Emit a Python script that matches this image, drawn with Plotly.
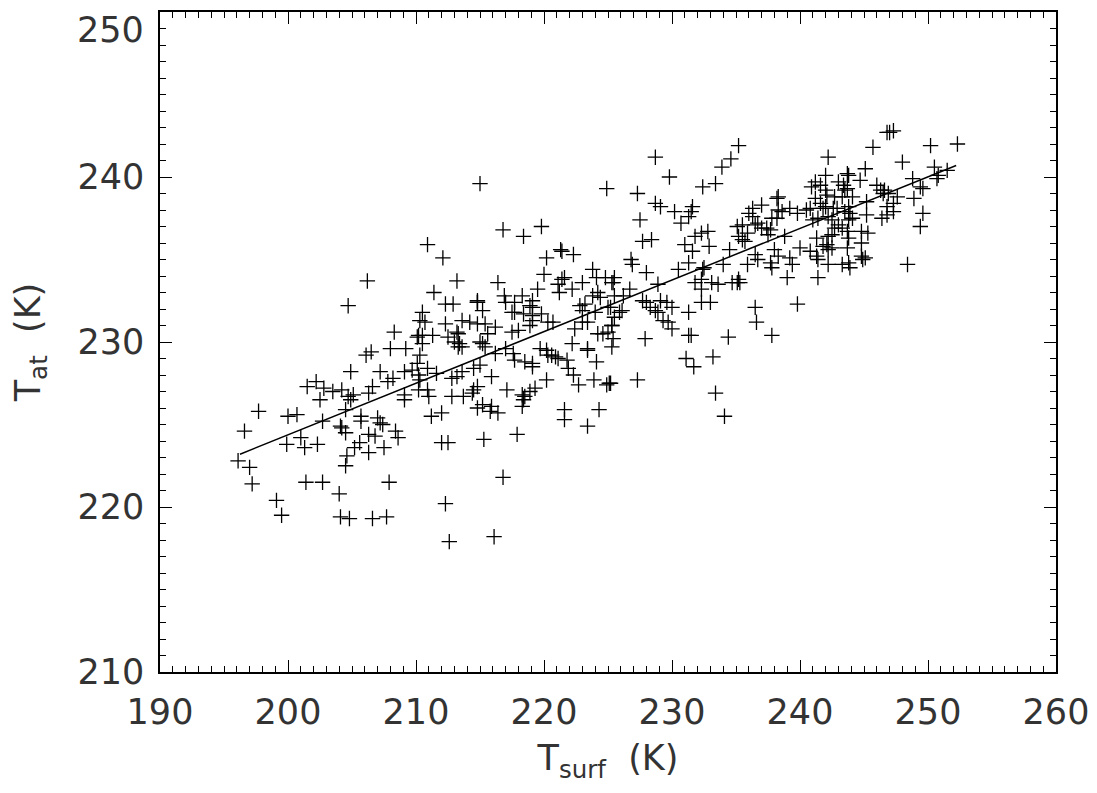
import numpy as np
import plotly.graph_objects as go

# surface temperature (K) vs. atmospheric temperature (K)
t_surf = [
    196.1, 197.0, 197.2, 199.1, 199.5, 196.6, 197.7, 200.0, 200.7, 199.9, 201.0, 201.3, 202.3, 201.4,
    202.7, 204.0, 204.1, 204.8, 206.6, 207.7, 207.9, 204.5, 204.6, 205.2, 205.6, 206.3, 207.5, 206.3,
    206.8, 208.4, 208.6, 204.1, 204.2, 204.5, 202.7, 204.5, 205.7, 205.7, 207.0, 207.2, 207.4, 201.5,
    202.2, 202.8, 202.5, 203.5, 204.2, 204.7, 204.9, 205.1, 206.3, 206.6, 204.9, 207.2, 207.8, 208.2,
    209.1, 209.7, 209.1, 209.1, 206.1, 206.5, 208.0, 209.2, 208.3, 204.7, 210.1, 210.5, 210.3, 206.2,
    210.7, 212.3, 212.9, 214.8, 215.2, 217.5, 217.7, 218.4, 219.1, 219.8, 218.9, 219.1, 218.9, 220.3,
    220.7, 222.8, 223.2, 223.0, 223.0, 223.4, 222.4, 224.0, 225.0, 225.3, 224.2, 224.6, 225.3, 212.3,
    213.6, 214.2, 214.8, 215.4, 216.2, 213.2, 213.3, 215.6, 217.5, 218.0, 210.2, 210.5, 211.3, 212.5,
    210.5, 213.0, 213.4, 213.6, 213.3, 215.0, 215.2, 215.4, 216.2, 217.0, 217.6, 217.7, 218.5, 219.1,
    219.1, 219.7, 220.2, 220.3, 220.6, 220.9, 221.1, 222.2, 223.4, 223.4, 224.1, 221.8, 221.9, 222.3,
    222.7, 223.9, 224.9, 225.2, 210.3, 210.1, 210.9, 211.6, 210.2, 210.3, 212.8, 213.2, 213.6, 214.5,
    215.0, 215.9, 214.8, 214.5, 214.4, 212.8, 213.7, 210.2, 210.9, 211.0, 217.1, 218.3, 218.5, 218.9,
    219.3, 220.2, 218.4, 218.3, 215.2, 214.8, 215.9, 215.8, 216.4, 212.0, 211.2, 221.6, 221.6, 224.3,
    223.4, 212.0, 212.5, 215.3, 217.9, 216.8, 212.3, 212.6, 216.1,
    215.0, 224.9, 210.9, 212.1, 216.8, 218.4, 219.8, 221.3, 221.4, 220.2, 222.3, 213.2, 211.4, 214.8,
    214.8, 216.4, 216.9, 217.0, 217.7, 218.3, 219.1, 219.1, 219.5, 220.0, 221.1, 221.2, 221.6, 221.4,
    222.2, 223.0, 223.8, 224.1, 224.8, 225.3, 223.8, 224.2, 224.4,
    235.2, 234.6, 233.9, 233.4, 232.4, 228.7, 229.8, 227.3, 228.7, 229.1, 230.2, 230.7, 231.3, 231.5,
    231.6, 227.5, 227.7, 228.4, 231.0, 231.6, 231.8, 232.3, 232.8, 232.9, 226.8, 226.9, 228.0, 231.3,
    230.5, 232.5, 232.4, 234.0, 228.9, 231.8, 232.3, 232.3, 233.1, 233.6, 234.7, 235.1, 235.2, 235.3,
    234.5, 235.1, 235.5, 236.3, 236.3, 237.0, 236.0, 235.2, 235.5, 235.7, 235.9, 236.5, 236.7, 237.0,
    237.4, 237.7, 237.5, 236.5, 236.7, 235.9, 237.7, 237.8, 238.3, 238.2, 237.8, 238.2, 238.3, 238.6,
    239.2, 239.8, 238.0, 238.3, 238.8, 239.2, 239.4, 239.0, 240.0, 239.8, 236.5, 236.6, 237.8, 234.4,
    231.3, 227.9, 225.5, 225.4, 226.7, 225.5, 226.2, 225.2, 226.1, 225.9, 227.7, 228.0, 228.3, 229.1,
    229.6, 230.0, 228.7, 228.9, 229.3, 229.7, 230.0, 231.3, 232.3, 233.0, 225.5, 225.3, 225.0,
    225.4, 231.1, 231.7, 233.2, 225.1, 227.3, 233.4, 234.1, 231.5,
    247.0, 247.3, 246.8, 245.7, 250.2, 252.3, 242.2, 248.0, 242.0, 243.7, 243.8, 245.1, 244.7, 248.8,
    250.5, 250.7, 250.8, 251.5, 241.2, 240.9, 241.6, 242.0, 242.1, 243.0, 243.4, 243.5, 243.7, 242.7,
    243.3, 244.1, 246.0, 246.3, 246.6, 246.9, 246.5, 247.6, 245.2, 249.4, 249.6, 248.9, 241.2, 241.6,
    242.0, 241.8, 242.6, 242.9, 240.5, 240.8, 243.8, 243.5, 243.9, 246.8, 247.3, 247.3, 241.0, 241.4,
    242.2, 242.5, 244.1, 243.8, 245.2, 246.4, 246.8, 249.6, 249.4, 243.0, 242.7, 243.3, 243.7, 244.8,
    245.3, 242.5, 242.2, 241.3, 243.8, 244.8, 242.1, 241.8, 242.2, 242.5, 243.7, 240.8, 241.3, 241.4,
    244.8, 244.9, 245.1, 242.2, 243.3, 243.8, 243.9, 241.4, 248.4,
]
t_at = [
    222.8, 222.4, 221.4, 220.4, 219.5, 224.6, 225.8, 225.5, 225.6, 223.8, 224.2, 223.6, 223.8, 221.5,
    221.5, 220.8, 219.4, 219.3, 219.3, 219.4, 221.5, 222.5, 223.1, 223.6, 223.9, 223.3, 223.6, 224.4,
    224.3, 224.6, 224.2, 224.9, 224.8, 224.5, 225.2, 225.9, 225.5, 225.2, 225.4, 225.1, 225.0, 227.3,
    227.6, 227.2, 226.5, 227.0, 227.1, 226.7, 226.5, 226.8, 226.9, 227.3, 228.2, 228.2, 227.6, 227.8,
    228.2, 228.3, 226.8, 226.5, 229.2, 229.4, 229.6, 229.6, 230.6, 232.2, 230.3, 231.8, 231.3, 233.7,
    231.2, 232.3, 232.3, 232.4, 231.9, 231.8, 231.8, 231.7, 231.6, 231.7, 232.2, 231.3, 231.0, 231.2,
    231.2, 232.2, 232.3, 231.9, 231.2, 231.2, 230.8, 231.8, 232.1, 231.0, 230.5, 230.5, 229.7, 231.1,
    231.3, 231.2, 231.1, 231.1, 230.9, 230.6, 230.5, 230.5, 230.6, 230.7, 230.4, 230.4, 230.4, 230.3,
    229.9, 230.0, 229.9, 229.7, 229.7, 230.0, 229.9, 229.7, 229.3, 229.6, 229.3, 228.9, 228.8, 228.7,
    228.5, 229.6, 229.5, 229.2, 229.2, 229.1, 229.0, 229.9, 229.6, 229.5, 228.8, 228.9, 228.4, 228.0,
    227.4, 227.7, 227.4, 227.5, 229.2, 228.7, 228.4, 228.1, 228.0, 227.7, 227.8, 227.9, 228.2, 228.4,
    228.6, 227.9, 227.3, 227.1, 226.9, 226.7, 226.7, 227.1, 227.1, 226.7, 227.1, 226.8, 226.7, 227.0,
    227.2, 227.7, 226.5, 226.1, 226.2, 226.0, 226.1, 225.8, 225.7, 225.7, 225.5, 225.9, 225.3, 225.9,
    224.9, 223.9, 223.9, 224.1, 224.4, 221.8, 220.2, 217.9, 218.2,
    239.6, 239.3, 235.9, 235.1, 236.8, 236.4, 237.0, 235.6, 235.5, 235.1, 235.3, 233.7, 233.0, 232.5,
    232.4, 233.6, 232.8, 232.4, 232.4, 232.8, 232.5, 232.1, 233.2, 234.1, 233.5, 233.0, 233.9, 233.8,
    233.2, 233.6, 234.4, 233.9, 233.9, 233.6, 232.8, 233.0, 232.7,
    241.9, 241.1, 240.6, 239.6, 239.4, 241.2, 240.0, 239.0, 238.4, 238.2, 237.9, 237.2, 237.6, 237.9,
    238.2, 237.4, 236.1, 236.2, 235.9, 235.5, 236.4, 236.6, 236.7, 235.8, 235.0, 234.7, 234.2, 234.8,
    234.4, 234.5, 234.4, 234.7, 233.5, 233.6, 233.8, 233.2, 233.6, 233.5, 233.6, 233.6, 233.8, 233.6,
    235.6, 237.0, 237.1, 238.1, 237.6, 238.3, 237.8, 236.4, 236.2, 236.1, 236.6, 237.1, 237.2, 236.9,
    236.9, 236.8, 236.5, 235.3, 235.0, 234.7, 234.8, 234.5, 238.8, 238.7, 237.5, 237.5, 238.0, 237.9,
    238.1, 237.8, 235.6, 235.2, 236.4, 235.1, 234.7, 233.9, 235.7, 232.3, 232.1, 231.2, 230.4, 230.3,
    230.4, 230.2, 233.9, 233.6, 233.2, 232.8, 232.8, 232.1, 231.9, 231.8, 232.5, 232.4, 232.1, 232.5,
    232.4, 232.1, 231.9, 231.8, 231.3, 231.2, 230.8, 231.8, 232.4, 232.4, 231.5, 231.0, 230.6,
    230.2, 229.0, 228.5, 229.1, 227.5, 227.7, 226.9, 225.5, 230.4,
    242.7, 242.8, 242.7, 241.8, 241.9, 242.0, 241.2, 240.9, 240.1, 240.2, 240.1, 240.5, 239.8, 239.9,
    240.6, 239.9, 240.1, 240.4, 239.7, 239.4, 239.5, 239.2, 238.9, 239.7, 239.5, 239.2, 239.3, 238.8,
    238.8, 238.8, 239.5, 239.2, 239.2, 239.0, 239.0, 238.8, 238.5, 239.4, 239.3, 238.7, 238.7, 238.4,
    238.2, 238.1, 238.1, 238.1, 238.0, 238.1, 238.2, 237.9, 237.8, 238.2, 238.4, 237.9, 237.4, 237.5,
    237.6, 237.4, 237.5, 237.4, 237.7, 237.5, 237.7, 237.8, 237.0, 237.1, 236.9, 236.9, 236.7, 236.7,
    236.6, 236.5, 236.4, 236.3, 236.3, 236.0, 235.9, 235.8, 235.6, 235.7, 235.7, 235.5, 235.2, 235.0,
    235.2, 235.0, 235.1, 234.7, 234.7, 234.8, 234.5, 233.9, 234.7,
]

# straight-line fit as drawn on the plot
fit_x = [196.25, 252.2]
fit_y = [223.2, 240.7]

# y tick labels; the top one is drawn just under its tick (as in the original)
y_ticks = [210, 220, 230, 240, 250]
y_ticktext = ["210", "220", "230", "240", ""]
y_top_label = "250"

font = dict(family="DejaVu Sans ExtraLight, DejaVu Sans", size=35, color="#333")

fig = go.Figure()
fig.add_trace(go.Scatter(
    x=t_surf, y=t_at, mode="markers",
    marker=dict(symbol="cross-thin", size=11, line=dict(width=1.3, color="black")),
    showlegend=False,
))
fig.add_trace(go.Scatter(
    x=fit_x, y=fit_y, mode="lines",
    line=dict(color="black", width=1.5),
    showlegend=False,
))

axis = dict(
    showgrid=False, zeroline=False, automargin=False,
    showline=True, linecolor="black", linewidth=1.5, mirror="allticks",
    ticks="inside", ticklen=12, tickwidth=1.2, tickcolor="black",
    tickfont=font, ticklabeloverflow="allow",
    minor=dict(ticks="inside", ticklen=6, dtick=1, tickcolor="black", tickwidth=1),
)

fig.update_xaxes(axis, range=[190, 260], dtick=10, ticklabelstandoff=8,
                 title=dict(text="T<sub>surf</sub>&nbsp;&nbsp;(K)", font=font, standoff=15))
fig.update_yaxes(axis, range=[210, 250], tickvals=y_ticks, ticktext=y_ticktext,
                 ticklabelstandoff=7,
                 title=dict(text="T<sub>at</sub>&nbsp;&nbsp;(K)", font=font, standoff=36))

fig.add_annotation(
    x=0, xref="paper", y=y_ticks[-1], yref="y", text=y_top_label,
    xanchor="right", yanchor="top", xshift=-14, yshift=4,
    showarrow=False, font=font,
)

# page body has an 8px default margin, so size the figure to fit inside it
fig.update_layout(
    width=1089, height=785,
    margin=dict(l=152, r=41, t=4, b=121),
    plot_bgcolor="white", paper_bgcolor="white",
)

fig.write_html("out.html")
